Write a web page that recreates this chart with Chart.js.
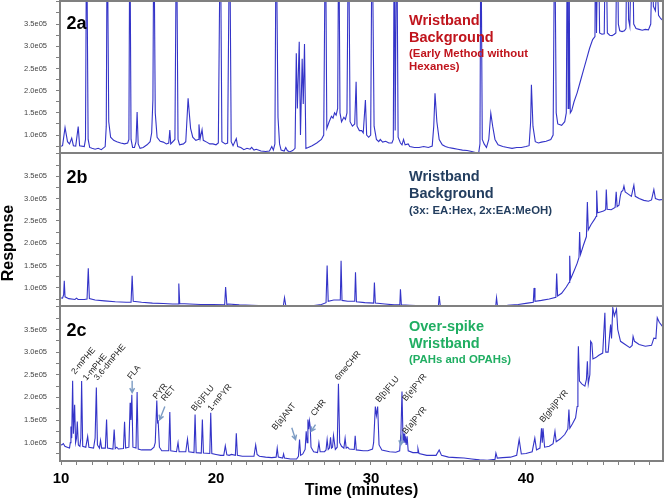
<!DOCTYPE html>
<html><head><meta charset="utf-8">
<script src="https://cdn.jsdelivr.net/npm/chart.js@4.4.1/dist/chart.umd.min.js"></script>
<style>
html,body{margin:0;padding:0;background:#fff;}
#wrap{position:relative;width:665px;height:500px;overflow:hidden;background:#fff;}
canvas{position:absolute;left:0;}
</style></head><body>
<div id="wrap">
<canvas id="ca" width="665" height="172" style="top:-9px"></canvas>
<canvas id="cb" width="665" height="173" style="top:143px"></canvas>
<canvas id="cc" width="665" height="204" style="top:296px"></canvas>
</div>
<script>
// ---------- DATA (time in minutes, response in units of 1e5) ----------
const panelA = [[9.94,0.74],[10.1,0.76],[10.26,1.17],[10.42,0.85],[10.55,0.8],[10.69,0.93],[10.8,0.76],[10.95,0.75],[11.11,1.19],[11.2,0.76],[11.5,0.74],
[11.58,0.9],[11.65,6],[11.75,0.9],[11.85,0.72],[12.0,0.7],[12.2,0.68],[12.4,0.7],[12.6,0.67],[12.85,0.74],
[12.92,1.2],[12.98,6],[13.08,1.3],[13.2,0.95],[13.4,0.88],[13.6,0.85],[13.85,0.82],[14.1,0.8],[14.3,0.82],
[14.38,0.9],[14.44,6],[14.52,0.9],[14.62,0.72],[14.74,0.72],[14.84,0.85],[14.91,1.52],[14.98,0.8],[15.1,0.7],[15.3,0.72],[15.55,0.78],[15.75,0.85],
[15.85,1.05],[15.93,1.8],[15.99,6],[16.08,1.5],[16.2,0.95],[16.4,0.86],[16.6,0.84],[16.8,0.8],[16.95,0.82],[17.02,1.11],[17.08,0.8],[17.35,0.9],
[17.45,6],[17.55,0.9],[17.65,0.78],[17.9,0.8],[18.05,0.85],[18.2,1.83],[18.28,1.48],[18.36,1.15],[18.5,0.95],[18.7,0.88],[18.85,0.9],[18.9,1.24],[18.98,0.92],[19.1,1.12],[19.18,0.88],[19.4,0.84],[19.6,0.8],[19.8,0.8],[20.0,0.78],[20.15,0.82],
[20.28,6],[20.38,0.85],[20.6,0.8],[20.75,0.82],[20.88,6],[20.98,0.85],[21.1,0.76],[21.31,0.92],[21.4,0.74],[21.6,0.72],[21.8,0.67],[22.0,0.7],[22.2,0.68],[22.3,0.72],[22.45,0.66],[22.6,0.68],[22.9,0.64],[23.2,0.63],[23.45,0.64],[23.6,0.74],[23.7,0.66],
[23.8,0.8],[23.88,6],[24.0,1.4],[24.1,0.8],[24.2,0.66],[24.4,0.64],[24.5,0.72],[24.6,0.65],[24.75,0.62],[24.95,0.65],
[25.1,0.7],[25.18,2.84],[25.25,1.6],[25.37,3.1],[25.45,1.0],[25.56,2.72],[25.63,1.7],[25.71,3.05],[25.8,0.7],
[25.95,0.72],[26.2,0.76],[26.5,0.82],[26.8,0.9],[26.95,1.0],[27.06,6],[27.15,1.15],[27.3,1.3],[27.45,1.42],[27.55,1.38],[27.65,1.5],[27.75,1.45],[27.85,1.6],[27.92,6],[28.0,1.5],[28.1,1.3],[28.25,1.4],[28.35,1.35],[28.45,1.5],[28.55,6],[28.65,1.3],[28.8,1.2],[28.95,1.25],[29.04,2.2],[29.1,1.2],[29.25,1.1],[29.4,1.1],[29.5,1.05],[29.64,1.79],[29.72,1.0],[29.85,0.95],[29.98,1.0],[30.07,6],[30.2,1.2],[30.35,0.9],[30.5,0.85],[30.6,0.9],[30.75,0.84],[30.95,0.86],[31.15,0.82],[31.35,0.82],
[31.44,0.9],[31.5,6],[31.56,1.1],[31.66,6],[31.75,0.95],[31.9,0.82],[32.0,0.78],[32.1,0.9],[32.2,0.78],[32.4,0.8],[32.5,0.74],[32.8,0.72],[33.1,0.72],[33.4,0.74],[33.7,0.72],[33.95,0.75],[34.05,1.2],[34.13,1.94],[34.25,1.3],[34.4,0.9],[34.6,0.78],[34.8,0.74],[35.0,0.72],[35.3,0.7],[35.6,0.68],[35.9,0.66],[36.2,0.65],[36.5,0.63],[36.8,0.6],[36.95,0.6],
[37.03,0.8],[37.09,6],[37.18,0.9],[37.3,0.8],[37.45,0.72],[37.6,0.9],[37.73,1.49],[37.85,1.2],[38.0,0.9],[38.2,0.78],[38.5,0.74],[38.8,0.72],[39.1,0.7],[39.4,0.72],[39.7,0.72],[40.0,0.74],[40.2,0.76],[40.3,1.3],[40.35,2.13],[40.45,1.2],[40.6,0.85],[40.8,0.82],[41.0,0.84],[41.3,0.86],[41.6,0.9],[41.75,1.0],
[41.85,6],[41.95,1.5],[42.05,1.25],[42.3,1.22],[42.5,1.3],[42.6,1.5],[42.67,6],[42.72,1.6],[42.77,6],[42.82,2.2],[42.86,1.5],[42.95,1.55],[43.1,1.75],[43.3,1.95],[43.5,2.2],[43.7,2.45],[43.9,2.7],[44.1,2.95],[44.3,3.15],[44.45,3.22],
[44.49,6],[44.55,3.3],[44.66,6],[44.75,3.3],[44.9,3.27],[45.05,3.28],[45.14,6],[45.25,3.3],[45.4,3.25],[45.55,3.24],[45.7,3.27],[45.8,3.3],[45.88,6],[45.96,3.5],[46.05,3.35],[46.2,3.33],[46.35,3.35],[46.45,3.4],[46.53,6],[46.62,3.6],[46.7,3.45],[46.85,6],[46.95,3.5],[47.1,3.4],[47.3,3.38],[47.5,3.36],[47.7,3.38],[47.9,3.37],[48.05,3.5],[48.14,5],[48.22,3.9],[48.35,3.8],[48.46,4.5],[48.55,3.7],[48.7,3.62],[48.84,3.58]];

const panelB = [[9.94,0.78],[10.1,0.77],[10.17,0.85],[10.21,1.16],[10.26,0.8],[10.5,0.76],[10.9,0.74],[11.0,0.77],[11.1,0.74],[11.5,0.74],[11.68,0.75],[11.76,1.44],[11.83,0.76],[12.2,0.73],[12.8,0.71],[13.5,0.69],[14.2,0.68],[14.52,0.68],[14.59,1.27],[14.66,0.7],[15.2,0.68],[15.9,0.66],[16.6,0.65],[17.2,0.64],[17.55,0.64],[17.6,1.1],[17.66,0.65],[18.3,0.64],[19.0,0.63],[19.8,0.63],[20.56,0.62],[20.62,1.02],[20.7,0.63],[20.8,0.64],[21.5,0.62],[22.3,0.61],[23.2,0.6],[24.35,0.61],[24.42,0.78],[24.5,0.61],[25.0,0.6],[25.6,0.59],[26.2,0.6],[26.8,0.63],[27.1,0.67],[27.17,1.5],[27.24,0.7],[27.6,0.73],[28.02,0.73],[28.07,1.61],[28.13,0.72],[28.5,0.7],[28.95,0.7],[29.0,1.35],[29.06,0.69],[29.6,0.67],[30.17,0.66],[30.22,1.12],[30.28,0.66],[30.9,0.64],[31.5,0.62],[31.86,0.62],[31.9,0.97],[31.96,0.62],[32.5,0.61],[33.3,0.6],[34.35,0.6],[34.4,0.82],[34.47,0.6],[35.2,0.59],[36.2,0.59],[37.2,0.59],[38.05,0.6],[38.1,0.78],[38.16,0.6],[38.8,0.61],[39.5,0.63],[40.1,0.66],[40.47,0.68],[40.52,1.0],[40.58,0.7],[41.0,0.72],[41.5,0.75],[41.93,0.79],[41.98,1.32],[42.04,0.82],[42.3,0.88],[42.6,1.02],[42.78,1.12],[42.82,1.72],[42.88,1.2],[43.1,1.38],[43.3,1.55],[43.42,1.68],[43.46,2.25],[43.52,1.75],[43.7,1.95],[43.9,2.15],[43.96,2.92],[44.02,2.3],[44.2,2.42],[44.45,2.55],[44.52,2.6],[44.56,3.18],[44.62,2.68],[44.8,2.7],[45.0,2.72],[45.14,2.75],[45.18,3.2],[45.24,2.76],[45.5,2.75],[45.75,2.8],[45.82,3.15],[45.88,2.82],[46.0,2.85],[46.08,3.05],[46.15,3.15],[46.25,3.18],[46.32,3.28],[46.4,3.15],[46.6,3.1],[46.8,3.05],[46.96,3.3],[47.05,3.05],[47.3,3.0],[47.6,2.96],[47.9,2.94],[48.1,2.97],[48.25,3.2],[48.35,3.0],[48.6,2.97],[48.84,2.98]];

const panelC = [[9.94,0.96],[10.05,0.95],[10.15,0.98],[10.25,0.92],[10.4,0.9],[10.55,0.88],[10.6,1.0],[10.64,1.36],[10.69,1.1],[10.75,2.37],[10.8,1.2],[10.88,1.84],[10.94,1.0],[11.0,1.1],[11.05,1.47],[11.12,0.95],[11.22,0.92],[11.28,1.1],[11.33,2.36],[11.4,0.92],[11.6,0.9],[11.72,1.14],[11.8,0.9],[12.1,0.88],[12.2,1.1],[12.28,2.22],[12.35,0.95],[12.48,0.88],[12.55,1.05],[12.62,0.88],[12.86,0.88],[12.94,1.51],[13.0,0.88],[13.35,0.86],[13.43,1.29],[13.5,0.87],[13.6,0.9],[13.7,0.86],[14.03,0.87],[14.1,1.46],[14.17,0.88],[14.38,0.9],[14.46,1.88],[14.51,1.5],[14.57,2.06],[14.64,0.9],[14.84,0.88],[14.91,2.12],[14.98,0.86],[15.2,0.84],[15.5,0.84],[15.8,0.84],[16.0,0.9],[16.08,1.0],[16.18,1.93],[16.23,1.45],[16.27,1.47],[16.35,0.9],[16.5,0.82],[16.95,0.82],[17.02,1.68],[17.08,0.82],[17.45,0.8],[17.55,1.0],[17.62,0.8],[18.05,0.8],[18.16,1.08],[18.25,0.8],[18.58,0.78],[18.65,1.62],[18.72,0.78],[19.05,0.77],[19.12,1.51],[19.19,0.77],[19.6,0.76],[19.66,1.66],[19.73,0.76],[20.0,0.74],[20.3,0.72],[20.5,0.72],[20.6,0.93],[20.7,0.73],[20.85,0.72],[21.0,0.74],[21.25,0.72],[21.31,1.21],[21.38,0.72],[21.7,0.7],[22.1,0.7],[22.45,0.7],[22.56,0.95],[22.65,0.74],[22.8,0.7],[23.2,0.68],[23.6,0.67],[23.88,0.68],[23.95,0.88],[24.02,0.68],[24.3,0.66],[24.36,0.75],[24.42,0.66],[24.8,0.64],[25.2,0.64],[25.32,0.7],[25.39,1.07],[25.46,0.72],[25.6,0.75],[25.75,0.85],[25.82,1.25],[25.88,1.0],[25.93,1.51],[25.98,1.3],[26.03,1.48],[26.08,1.35],[26.13,0.9],[26.3,0.8],[26.55,0.78],[26.64,1.0],[26.72,0.8],[27.0,0.8],[27.1,0.84],[27.17,1.07],[27.24,0.85],[27.32,0.88],[27.39,1.12],[27.45,0.88],[27.52,0.9],[27.58,1.16],[27.7,0.85],[27.82,0.9],[27.9,2.3],[27.98,1.0],[28.1,0.92],[28.25,0.88],[28.33,1.1],[28.4,0.88],[28.5,0.9],[28.6,0.86],[28.92,0.85],[28.98,1.15],[29.05,0.84],[29.5,0.82],[29.8,0.82],[30.1,0.86],[30.17,1.0],[30.28,1.8],[30.35,1.6],[30.43,1.8],[30.52,0.95],[30.7,0.84],[31.2,0.8],[31.6,0.79],[31.85,0.82],[31.93,1.2],[32.0,2.13],[32.07,1.0],[32.13,1.2],[32.18,1.0],[32.22,1.14],[32.27,0.95],[32.33,1.14],[32.4,0.82],[32.7,0.78],[32.97,0.78],[33.03,0.87],[33.1,0.76],[33.6,0.72],[34.2,0.72],[34.4,0.84],[34.55,0.72],[35.0,0.68],[35.5,0.67],[36.0,0.66],[36.5,0.64],[37.0,0.62],[37.5,0.61],[38.0,0.63],[38.06,0.77],[38.15,0.66],[38.5,0.67],[39.0,0.68],[39.4,0.72],[39.56,1.07],[39.7,0.75],[40.0,0.76],[40.4,0.8],[40.57,1.1],[40.68,0.84],[40.9,0.88],[41.0,1.32],[41.05,1.0],[41.1,1.32],[41.2,0.9],[41.5,0.92],[41.75,0.98],[41.87,1.25],[41.95,1.02],[42.2,1.08],[42.5,1.18],[42.7,1.3],[42.77,1.73],[42.83,1.32],[43.0,1.42],[43.2,1.55],[43.3,1.8],[43.35,2.6],[43.38,3.13],[43.45,2.36],[43.6,2.3],[43.8,2.25],[43.9,2.4],[43.96,2.8],[44.02,2.3],[44.12,2.5],[44.17,3.24],[44.25,3.2],[44.32,2.85],[44.5,2.88],[44.7,2.93],[44.95,2.98],[45.09,3.87],[45.15,3.0],[45.3,3.0],[45.46,3.61],[45.52,3.3],[45.6,3.98],[45.7,3.8],[45.84,3.95],[45.92,3.5],[46.1,3.24],[46.4,3.17],[46.7,3.1],[46.85,3.15],[46.91,3.35],[47.0,3.24],[47.3,3.17],[47.7,3.13],[48.1,3.15],[48.25,3.31],[48.38,3.3],[48.47,3.76],[48.6,3.66],[48.84,3.55]];

// peak labels for panel 2c: [text, time, response]
const peakLabels = [["2-mPHE",10.90,2.50],["1-mPHE",11.65,2.36],["3,6-dmPHE",12.36,2.37],["FLA",14.51,2.39],["PYR",16.16,1.95],["RET",16.70,1.91],["B[c]FLU",18.63,1.69],["1-mPYR",19.70,1.69],["B[a]ANT",23.84,1.27],["CHR",26.35,1.58],["6meCHR",27.90,2.37],["B[b]FLU",30.54,1.88],["B[e]PYR",32.26,1.91],["B[a]PYR",32.26,1.18],["B[ghi]PYR",41.12,1.44]];
// arrows for panel 2c: [t1, v1, t2, v2]
const peakArrows = [[14.59,2.37,14.59,2.11],[16.70,1.80,16.37,1.51],[24.89,1.33,25.13,1.07],[26.42,1.40,26.14,1.25],[32.0,1.18,31.92,0.95]];

const yTickValues = [0.75,1.0,1.25,1.5,1.75,2.0,2.25,2.5,2.75,3.0,3.25,3.5,3.75,4.0];
const yLabelValues = [1.0,1.5,2.0,2.5,3.0,3.5];
const yTickLabels = ["1.0e05","1.5e05","2.0e05","2.5e05","3.0e05","3.5e05"];
const xLabelValues = [10,20,30,40];
const xTickLabels = ["10","20","30","40"];

// panel texts
const panelTitles = ["2a","2b","2c"];
const panelNotes = [
  [["Wristband","big"],["Background","big"],["(Early Method without","small"],["Hexanes)","small"]],
  [["Wristband","big"],["Background","big"],["(3x: EA:Hex, 2x:EA:MeOH)","small"]],
  [["Over-spike","big"],["Wristband","big"],["(PAHs and OPAHs)","small"]]
];
const panelNoteColors = ["#C0141C","#233E5F","#20AE62"];

// ---------- STYLE / LAYOUT ----------
const FONT = '"Liberation Sans", Arial, sans-serif';
const LINE = '#3434C8';
const FRAME = '#808080';
const noteBaselines = [[24,40.7,55.7,68.5],[28,45.3,60.5],[24.7,42.3,57.3]];
const titleBaseline = [28.3,30.3,29.7];

function framePlugin(idx, canvasTop){
  return {
    id:'frame'+idx,
    afterDatasetsDraw(chart){
      const {ctx, chartArea:a, scales} = chart;
      ctx.save();
      ctx.strokeStyle = FRAME; ctx.lineWidth = 2;
      ctx.strokeRect(a.left, a.top, a.right-a.left, a.bottom-a.top);
      ctx.fillStyle = '#000';
      ctx.font = 'bold 18px '+FONT;
      ctx.textBaseline = 'alphabetic'; ctx.textAlign = 'left';
      ctx.fillText(panelTitles[idx], a.left+6.5, a.top+titleBaseline[idx]);
      ctx.fillStyle = panelNoteColors[idx];
      panelNotes[idx].forEach((n,i)=>{
        ctx.font = (n[1]==='big' ? 'bold 14.5px ' : 'bold 11.4px ') + FONT;
        ctx.fillText(n[0], a.left+349, a.top+noteBaselines[idx][i]);
      });
      if (idx===1){
        ctx.save();
        ctx.fillStyle = '#000';
        ctx.font = 'bold 16px '+FONT;
        ctx.translate(9, 243-canvasTop);
        ctx.rotate(-Math.PI/2);
        ctx.textAlign='center'; ctx.textBaseline='middle';
        ctx.fillText('Response',0,0);
        ctx.restore();
      }
      if (idx===2){
        const xs = scales.x, ys = scales.y;
        ctx.fillStyle = '#222';
        ctx.font = '8.5px '+FONT;
        ctx.textAlign='left'; ctx.textBaseline='alphabetic';
        peakLabels.forEach(([txt,t,v])=>{
          ctx.save();
          ctx.translate(xs.getPixelForValue(t), ys.getPixelForValue(v));
          ctx.rotate(-50*Math.PI/180);
          ctx.fillText(txt,0,0);
          ctx.restore();
        });
        ctx.strokeStyle = '#7C9CC4'; ctx.lineWidth = 1.4;
        peakArrows.forEach(([t1,v1,t2,v2])=>{
          const x1=xs.getPixelForValue(t1), y1=ys.getPixelForValue(v1);
          const x2=xs.getPixelForValue(t2), y2=ys.getPixelForValue(v2);
          const ang = Math.atan2(y2-y1,x2-x1);
          ctx.beginPath(); ctx.moveTo(x1,y1); ctx.lineTo(x2,y2);
          ctx.moveTo(x2-5*Math.cos(ang-0.5), y2-5*Math.sin(ang-0.5));
          ctx.lineTo(x2,y2);
          ctx.lineTo(x2-5*Math.cos(ang+0.5), y2-5*Math.sin(ang+0.5));
          ctx.stroke();
        });
      }
      ctx.restore();
    }
  };
}

function makeChart(id, data, idx, canvasTop, showX){
  const xScale = {
    type:'linear', min:9.935, max:48.84, display: showX,
    afterBuildTicks(s){ const t=[]; for(let v=10; v<=48; v++) t.push({value:v}); s.ticks=t; },
    afterFit(s){ if (showX) s.height = 39; },
    border:{display:false},
    grid:{drawOnChartArea:false, drawTicks:true, tickLength:4, color:FRAME},
    ticks:{autoSkip:false, maxRotation:0, padding:5, color:'#000', font:{family:FONT, size:15, weight:'bold'},
      callback(v){ const i = xLabelValues.indexOf(v); return i>=0 ? xTickLabels[i] : ''; }},
    title:{display:true, text:'Time (minutes)', color:'#000', font:{family:FONT, size:16, weight:'bold'}, padding:{top:0,bottom:0}}
  };
  return new Chart(document.getElementById(id), {
    type:'scatter',
    data:{datasets:[{data:data.map(([t,v])=>({x:t,y:v})), showLine:true, borderColor:LINE, borderWidth:1.1, pointRadius:0, tension:0, fill:false}]},
    options:{
      responsive:false, animation:false, events:[],
      layout:{padding:{top:10, bottom: showX?0:10, left:0, right:2}},
      plugins:{legend:{display:false}, tooltip:{enabled:false}},
      scales:{
        x:xScale,
        y:{type:'linear', min:0.595, max:4.02,
          afterBuildTicks(s){ s.ticks = yTickValues.map(v=>({value:v})); },
          afterFit(s){ s.width = 60; },
          border:{display:false},
          grid:{drawOnChartArea:false, drawTicks:true, tickLength:4, color:FRAME},
          ticks:{autoSkip:false, padding:9, color:'#444', font:{family:FONT, size:7.5, lineHeight:0.01},
            callback(v){ const i = yLabelValues.indexOf(v); return i>=0 ? yTickLabels[i] : ''; }}
        }
      }
    },
    plugins:[framePlugin(idx, canvasTop)]
  });
}
makeChart('ca', panelA, 0, -9, false);
makeChart('cb', panelB, 1, 143, false);
makeChart('cc', panelC, 2, 296, true);
</script>
</body></html>
